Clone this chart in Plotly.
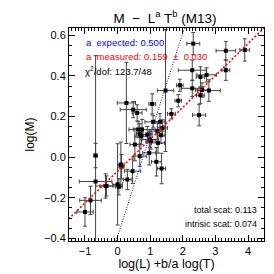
import plotly.graph_objects as go

# data points: x = log(L) + b/a log(T), y = log(M)
x_vals = [2.32, 3.32, 3.90, 2.29, 3.32, 2.54, 2.73, 1.91, 2.29, 2.59,
          2.80, 2.54, 1.86, 1.47, 1.65, 2.50, 1.06, 1.30, 1.09, 0.27,
          0.48, 0.60, 0.75, 0.73, 0.99, 1.24, 1.38, 1.22, 0.91, 0.53,
          0.68, 0.97, 1.19, 1.35, 0.10, 0.12, 0.46, 0.30, 0.00, 0.04,
          -0.37, -0.675, -0.675, -0.83, -1.00, -0.34, 0.63, 1.33, 0.68, 1.02]
y_vals = [0.559, 0.524, 0.528, 0.428, 0.428, 0.395, 0.405, 0.354, 0.339, 0.331,
          0.328, 0.305, 0.278, 0.328, 0.213, 0.207, 0.262, 0.174, 0.174, 0.267,
          0.234, 0.218, 0.136, 0.103, 0.087, 0.070, 0.144, 0.128, 0.111, 0.062,
          0.005, 0.021, -0.023, -0.056, -0.036, -0.047, -0.069, -0.110, -0.134, -0.146,
          -0.142, -0.120, 0.008, -0.213, -0.270, -0.142, 0.136, 0.108, 0.115, 0.079]
x_err = [0.20, 0.30, 0.15, 0.43, 0.12, 0.13, 0.30, 0.10, 0.33, 0.20,
         0.35, 0.12, 0.10, 0.25, 0.12, 0.20, 0.10, 0.15, 0.25, 0.28,
         0.40, 0.15, 0.40, 0.20, 0.25, 0.20, 0.15, 0.25, 0.15, 0.15,
         0.20, 0.20, 0.15, 0.12, 0.10, 0.08, 0.25, 0.12, 0.15, 0.10,
         0.30, 0.50, 0.05, 0.33, 0.25, 0.20, 0.15, 0.12, 0.10, 0.15]
y_err = [0.055, 0.045, 0.055, 0.050, 0.050, 0.050, 0.035, 0.030, 0.040, 0.035,
         0.053, 0.040, 0.030, 0.300, 0.025, 0.053, 0.050, 0.040, 0.030, 0.200,
         0.040, 0.040, 0.050, 0.040, 0.040, 0.050, 0.040, 0.040, 0.040, 0.080,
         0.050, 0.060, 0.070, 0.075, 0.110, 0.060, 0.060, 0.050, 0.200, 0.040,
         0.060, 0.620, 0.060, 0.070, 0.070, 0.050, 0.040, 0.040, 0.050, 0.040]

# fitted / expected relations
line_x = [-1.5, 4.5]
expected_slope, expected_icpt = 0.5, -0.39
measured_slope, measured_icpt = 0.157, -0.069

x_ticks = [-1, 0, 1, 2, 3, 4]
y_ticks = [-0.4, -0.2, 0.0, 0.2, 0.4, 0.6]
y_ticktext = ["−0.4", "−0.2", "0.0", "0.2", "0.4", "0.6"]

FONT = "Liberation Sans"

fig = go.Figure()
fig.add_trace(go.Scatter(
    x=x_vals, y=y_vals, mode="markers",
    marker=dict(symbol="square", size=4, color="black"),
    error_x=dict(type="data", array=x_err, color="#444444", thickness=1, width=2),
    error_y=dict(type="data", array=y_err, color="#444444", thickness=1, width=2),
    showlegend=False, cliponaxis=True))
fig.add_trace(go.Scatter(
    x=line_x, y=[expected_slope * v + expected_icpt for v in line_x],
    mode="lines", line=dict(color="blue", width=1, dash="1px,1.5px"), showlegend=False))
fig.add_trace(go.Scatter(
    x=line_x, y=[measured_slope * v + measured_icpt for v in line_x],
    mode="lines", line=dict(color="red", width=1.6, dash="2px,2px"), showlegend=False))

axis_common = dict(showgrid=False, zeroline=False, showline=True, linecolor="black",
                   linewidth=1, mirror="allticks", ticks="inside", ticklen=6,
                   tickcolor="black", tickfont=dict(family=FONT, size=11, color="black"))

fig.update_xaxes(range=[-1.49, 4.49], tickvals=x_ticks,
                 minor=dict(dtick=0.1, ticklen=3, ticks="inside", tickcolor="black"),
                 title=dict(text="log(L) +b/a log(T)", font=dict(family=FONT, size=12.5, color="black"), standoff=3),
                 **axis_common)
fig.update_yaxes(range=[-0.413, 0.636], tickvals=y_ticks, ticktext=y_ticktext,
                 minor=dict(dtick=0.05, ticklen=3, ticks="inside", tickcolor="black"),
                 title=dict(text="log(M)", font=dict(family=FONT, size=12, color="black"), standoff=6),
                 **axis_common)

ann_font = dict(family=FONT, size=9.5)
fig.add_annotation(xref="paper", yref="paper", x=0.077, y=0.93, xanchor="left", yanchor="middle",
                   text="a  expected: 0.500", showarrow=False, font=dict(color="blue", **ann_font))
fig.add_annotation(xref="paper", yref="paper", x=0.077, y=0.865, xanchor="left", yanchor="middle",
                   text="a  measured: 0.159  ±  0.030", showarrow=False, font=dict(color="red", **ann_font))
fig.add_annotation(xref="paper", yref="paper", x=0.072, y=0.80, xanchor="left", yanchor="middle",
                   text="χ<sup>2</sup>/dof: 123.7/48", showarrow=False, font=dict(color="black", **ann_font))
fig.add_annotation(xref="paper", yref="paper", x=0.975, y=0.145, xanchor="right", yanchor="middle",
                   text="total scat: 0.113", showarrow=False, font=dict(color="black", family=FONT, size=9))
fig.add_annotation(xref="paper", yref="paper", x=0.975, y=0.082, xanchor="right", yanchor="middle",
                   text="intrisic scat: 0.074", showarrow=False, font=dict(color="black", family=FONT, size=9))

fig.update_layout(
    width=274, height=274,
    margin=dict(l=61, r=18, t=20, b=41, autoexpand=False),
    paper_bgcolor="white", plot_bgcolor="white",
    title=dict(text="M  −  L<sup>a</sup> T<sup>b</sup> (M13)", x=0.573, xanchor="center",
               y=0.962, yanchor="middle", font=dict(family=FONT, size=13.5, color="black")),
)

fig.write_html("out.html")
